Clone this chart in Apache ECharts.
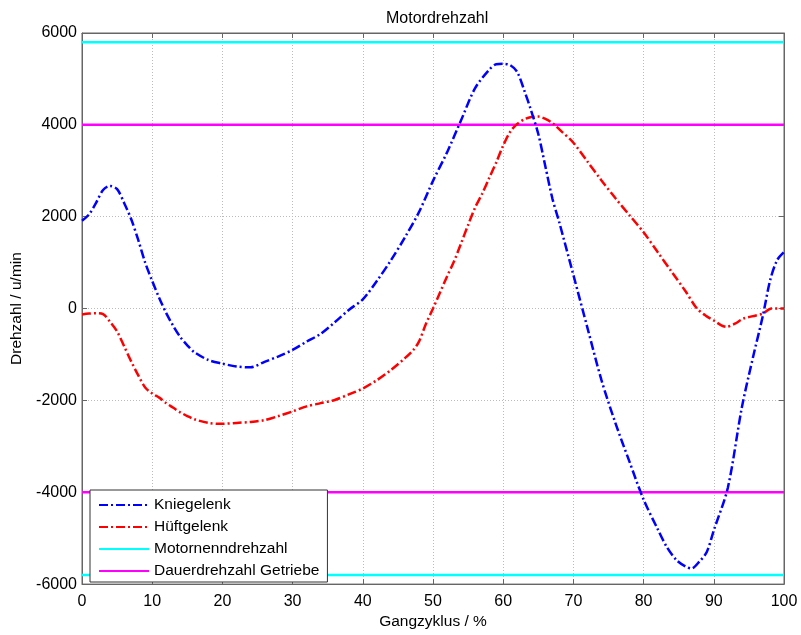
<!DOCTYPE html>
<html>
<head>
    <title>Motordrehzahl</title>
    <script src="https://cdn.jsdelivr.net/npm/echarts@6/dist/echarts.min.js"></script>
    <meta charset="utf-8">
</head>
<body style="margin:0;background:#fff;">
<div id="chart" style="width:801px;height:635px;"></div>
<script type="text/javascript">
// Kniegelenk (Gangzyklus %, Drehzahl u/min)
var knieX = [0, 1, 2, 3, 4, 5, 6, 7, 8, 9, 10, 11, 12, 13, 14, 15, 16, 18, 20, 22, 24, 26, 28, 30, 32, 34, 36, 38, 40, 42, 44, 46, 48, 50, 52, 54, 56, 58, 59, 60, 61, 62, 63, 64, 65, 66, 67, 68, 70, 72, 74, 76, 78, 80, 82, 83.3, 84.7, 86, 86.8, 88, 89, 90, 92, 94, 95.6, 97, 98, 99, 100];
var knieY = [1910, 2050, 2300, 2580, 2670, 2600, 2300, 1950, 1500, 1000, 600, 230, -100, -380, -620, -800, -950, -1120, -1200, -1260, -1280, -1160, -1040, -900, -720, -550, -300, -30, 200, 600, 1050, 1550, 2100, 2780, 3400, 4100, 4800, 5200, 5320, 5330, 5300, 5150, 4750, 4300, 3800, 3100, 2400, 1870, 730, -420, -1560, -2500, -3340, -4160, -4800, -5190, -5480, -5620, -5660, -5500, -5300, -4830, -3900, -2150, -1050, -150, 600, 1050, 1230];

// Hüftgelenk
var hueftX = [0, 1, 2, 3, 4, 5, 6, 7, 8, 9, 10, 11, 12, 13, 14, 15, 16, 18, 20, 22, 24, 26, 28, 30, 32, 34, 36, 38, 40, 42, 44, 46, 47.2, 48, 49, 50, 51, 52, 53, 54, 55, 56, 57, 58, 59, 60, 61, 62, 63, 64, 65, 66, 67, 68, 70, 72, 74, 76, 78, 80, 82, 84, 86, 87.6, 89, 90, 91, 91.8, 93, 94.2, 96, 97, 98.2, 100];
var hueftY = [-130, -110, -100, -120, -290, -500, -820, -1150, -1450, -1720, -1850, -1940, -2060, -2160, -2260, -2340, -2410, -2490, -2510, -2490, -2470, -2430, -2340, -2240, -2130, -2060, -1990, -1870, -1740, -1560, -1340, -1080, -900, -720, -330, 0, 350, 700, 1030, 1420, 1820, 2200, 2500, 2840, 3180, 3550, 3850, 4020, 4120, 4170, 4180, 4130, 4040, 3900, 3610, 3200, 2790, 2400, 2030, 1660, 1230, 800, 370, 0, -170, -260, -360, -400, -330, -220, -150, -110, 0, 0];

var nenndrehzahl = 5800;
var dauerdrehzahl = 4000;

var xTicks = [0, 100, 10];
var yTicks = [-6000, 6000, 2000];

function pairs(xs, ys) {
    return xs.map(function (x, i) { return [x, ys[i]]; });
}
function hline(v) {
    return [[xTicks[0], v], [xTicks[1], v]];
}

var dashDot = [9, 3, 2, 3];
var font = 'Liberation Sans, Arial, sans-serif';
var tickStyle = {inside: true, length: 5, lineStyle: {color: '#666'}};

var myChart = echarts.init(document.getElementById('chart'));

var option = {
    animation: false,
    textStyle: {fontFamily: font},
    title: {
        text: 'Motordrehzahl',
        left: 381, top: 6,
        textStyle: {fontSize: 16, fontWeight: 'normal', color: '#000', fontFamily: font}
    },
    legend: {
        orient: 'vertical',
        left: 90, top: 490,
        itemWidth: 50, itemHeight: 14, itemGap: 6,
        padding: [7, 8, 3, 8],
        backgroundColor: '#fff',
        borderColor: '#333', borderWidth: 1,
        itemStyle: {opacity: 0},
        textStyle: {fontSize: 15.5, color: '#000', fontFamily: font},
        data: ['Kniegelenk', 'Hüftgelenk', 'Motornenndrehzahl', 'Dauerdrehzahl Getriebe']
    },
    grid: {left: 82, right: 17, top: 33, bottom: 48, show: true, borderColor: '#666', borderWidth: 1},
    xAxis: [{
        type: 'value', min: xTicks[0], max: xTicks[1], interval: xTicks[2],
        name: 'Gangzyklus / %', nameLocation: 'middle', nameGap: 27,
        nameTextStyle: {fontSize: 15.5, color: '#000', fontFamily: font},
        axisLine: {onZero: false, lineStyle: {color: '#666'}},
        axisTick: tickStyle,
        axisLabel: {fontSize: 16, color: '#000', margin: 9},
        splitLine: {lineStyle: {color: '#bbb', type: [1, 2]}}
    }, {
        type: 'value', position: 'top', min: xTicks[0], max: xTicks[1], interval: xTicks[2],
        axisLine: {onZero: false, lineStyle: {color: '#666'}},
        axisTick: tickStyle,
        axisLabel: {show: false}, splitLine: {show: false}
    }],
    yAxis: [{
        type: 'value', min: yTicks[0], max: yTicks[1], interval: yTicks[2],
        name: 'Drehzahl / u/min', nameLocation: 'middle', nameGap: 53,
        nameTextStyle: {fontSize: 15.5, color: '#000', fontFamily: font},
        axisLine: {onZero: false, lineStyle: {color: '#666'}},
        axisTick: tickStyle,
        axisLabel: {fontSize: 16, color: '#000', margin: 5, formatter: function (v) { return String(v); }},
        splitLine: {lineStyle: {color: '#bbb', type: [1, 2]}}
    }, {
        type: 'value', position: 'right', min: yTicks[0], max: yTicks[1], interval: yTicks[2],
        axisLine: {onZero: false, lineStyle: {color: '#666'}},
        axisTick: tickStyle,
        axisLabel: {show: false}, splitLine: {show: false}
    }],
    series: [
        {
            name: 'Kniegelenk', type: 'line', smooth: 0.3, symbol: 'none',
            data: pairs(knieX, knieY),
            lineStyle: {color: '#0000ff', width: 2.5, type: dashDot},
            itemStyle: {color: '#0000ff'}, z: 5
        },
        {
            name: 'Hüftgelenk', type: 'line', smooth: 0.3, symbol: 'none',
            data: pairs(hueftX, hueftY),
            lineStyle: {color: '#ff0000', width: 2.5, type: dashDot},
            itemStyle: {color: '#ff0000'}, z: 4
        },
        {
            name: 'Motornenndrehzahl', type: 'line', symbol: 'none',
            data: hline(nenndrehzahl),
            lineStyle: {color: '#00ffff', width: 2.5},
            itemStyle: {color: '#00ffff'}, z: 3
        },
        {
            name: 'Motornenndrehzahl', type: 'line', symbol: 'none',
            data: hline(-nenndrehzahl),
            lineStyle: {color: '#00ffff', width: 2.5},
            itemStyle: {color: '#00ffff'}, z: 3
        },
        {
            name: 'Dauerdrehzahl Getriebe', type: 'line', symbol: 'none',
            data: hline(dauerdrehzahl),
            lineStyle: {color: '#ff00ff', width: 2.5},
            itemStyle: {color: '#ff00ff'}, z: 3
        },
        {
            name: 'Dauerdrehzahl Getriebe', type: 'line', symbol: 'none',
            data: hline(-dauerdrehzahl),
            lineStyle: {color: '#ff00ff', width: 2.5},
            itemStyle: {color: '#ff00ff'}, z: 3
        }
    ]
};

myChart.setOption(option);
</script>
</body>
</html>
